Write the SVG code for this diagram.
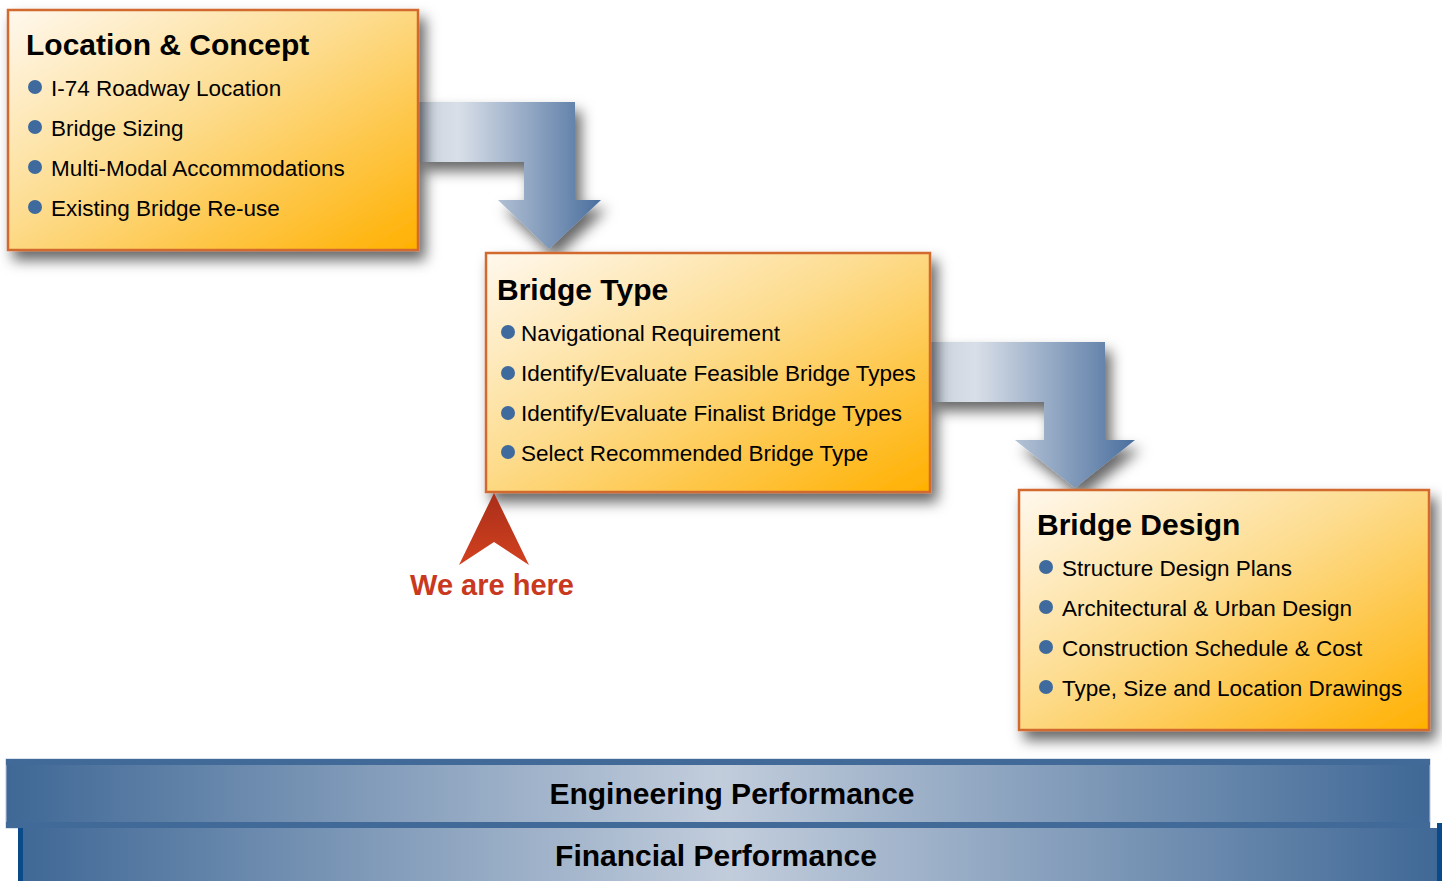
<svg xmlns="http://www.w3.org/2000/svg" width="1442" height="881" viewBox="0 0 1442 881">
<defs>
<linearGradient id="boxGrad" x1="0" y1="0" x2="1" y2="1">
<stop offset="0" stop-color="#FFF8EE"/>
<stop offset="0.45" stop-color="#FDDC8E"/>
<stop offset="1" stop-color="#FFB000"/>
</linearGradient>
<linearGradient id="arrGrad" x1="0" y1="0" x2="1" y2="0">
<stop offset="0" stop-color="#C9D2DE"/>
<stop offset="0.22" stop-color="#D9DFE8"/>
<stop offset="1" stop-color="#4A6F9E"/>
</linearGradient>
<linearGradient id="barGrad" x1="0" y1="0" x2="1" y2="0">
<stop offset="0" stop-color="#3F6896"/>
<stop offset="0.5" stop-color="#C2CDDC"/>
<stop offset="1" stop-color="#3F6896"/>
</linearGradient>
<linearGradient id="redGrad" x1="0" y1="0" x2="0" y2="1">
<stop offset="0" stop-color="#A92E1A"/>
<stop offset="1" stop-color="#D2411F"/>
</linearGradient>
<filter id="shadow" x="-10%" y="-10%" width="130%" height="140%">
<feDropShadow dx="6" dy="9" stdDeviation="7" flood-color="#000" flood-opacity="0.6"/>
</filter>
</defs>
<style>
.box{fill:url(#boxGrad);stroke:#D2692D;stroke-width:2.5;filter:url(#shadow)}
.title{font-family:"Liberation Sans",Arial,sans-serif;font-weight:bold;font-size:30px;fill:#000}
.item{font-family:"Liberation Sans",Arial,sans-serif;font-size:22.5px;fill:#000}
.dot{fill:#3F6A9E}
.arrow{fill:url(#arrGrad);filter:url(#shadow)}
.bar{font-family:"Liberation Sans",Arial,sans-serif;font-weight:bold;font-size:30px;fill:#000;text-anchor:middle}
</style>
<rect width="1442" height="881" fill="#FFFFFF"/>

<g id="connectors">
<path class="arrow" d="M418,102 H575 V200 H601 L549,249 L498,200 H524 V162 H418 Z"/>
<path class="arrow" d="M930,342 H1105 V440 H1135 L1075,488 L1015,440 H1044 V402 H930 Z"/>
</g>

<g id="location-concept">
<rect class="box" x="8" y="10" width="410" height="240"/>
<text class="title" x="26" y="55">Location &amp; Concept</text>
<circle class="dot" cx="35" cy="87" r="7"/>
<text class="item" x="51" y="96">I-74 Roadway Location</text>
<circle class="dot" cx="35" cy="127" r="7"/>
<text class="item" x="51" y="136">Bridge Sizing</text>
<circle class="dot" cx="35" cy="167" r="7"/>
<text class="item" x="51" y="176">Multi-Modal Accommodations</text>
<circle class="dot" cx="35" cy="207" r="7"/>
<text class="item" x="51" y="216">Existing Bridge Re-use</text>
</g>

<g id="bridge-type">
<rect class="box" x="486" y="253" width="444" height="239"/>
<text class="title" x="497" y="300">Bridge Type</text>
<circle class="dot" cx="508" cy="332" r="7"/>
<text class="item" x="521" y="341">Navigational Requirement</text>
<circle class="dot" cx="508" cy="373" r="7"/>
<text class="item" x="521" y="381">Identify/Evaluate Feasible Bridge Types</text>
<circle class="dot" cx="508" cy="413" r="7"/>
<text class="item" x="521" y="421">Identify/Evaluate Finalist Bridge Types</text>
<circle class="dot" cx="508" cy="452" r="7"/>
<text class="item" x="521" y="461">Select Recommended Bridge Type</text>
</g>

<g id="bridge-design">
<rect class="box" x="1019" y="490" width="410" height="240"/>
<text class="title" x="1037" y="535">Bridge Design</text>
<circle class="dot" cx="1046" cy="567" r="7"/>
<text class="item" x="1062" y="576">Structure Design Plans</text>
<circle class="dot" cx="1046" cy="607" r="7"/>
<text class="item" x="1062" y="616">Architectural &amp; Urban Design</text>
<circle class="dot" cx="1046" cy="647" r="7"/>
<text class="item" x="1062" y="656">Construction Schedule &amp; Cost</text>
<circle class="dot" cx="1046" cy="687" r="7"/>
<text class="item" x="1062" y="696">Type, Size and Location Drawings</text>
</g>

<g id="we-are-here">
<path d="M494,493 L529,565 L494,542 L459,565 Z" fill="url(#redGrad)"/>
<text x="492" y="595" text-anchor="middle" font-family="'Liberation Sans',Arial,sans-serif" font-weight="bold" font-size="29" fill="#C8391E">We are here</text>
</g>

<g id="engineering-performance">
<rect x="6" y="759" width="1424" height="69" fill="url(#barGrad)" stroke="#B9C6D8" stroke-width="1"/>
<rect x="6" y="759" width="1424" height="6" fill="#426A98"/>
<rect x="6" y="822" width="1424" height="6" fill="#426A98"/>
<text class="bar" x="732" y="804">Engineering Performance</text>
</g>

<g id="financial-performance">
<rect x="18" y="828" width="1424" height="53" fill="url(#barGrad)"/>
<rect x="18" y="828" width="5" height="53" fill="#0A4A8A"/>
<rect x="1437" y="823" width="5" height="58" fill="#0A4A8A"/>
<text class="bar" x="716" y="866">Financial Performance</text>
</g>
</svg>
